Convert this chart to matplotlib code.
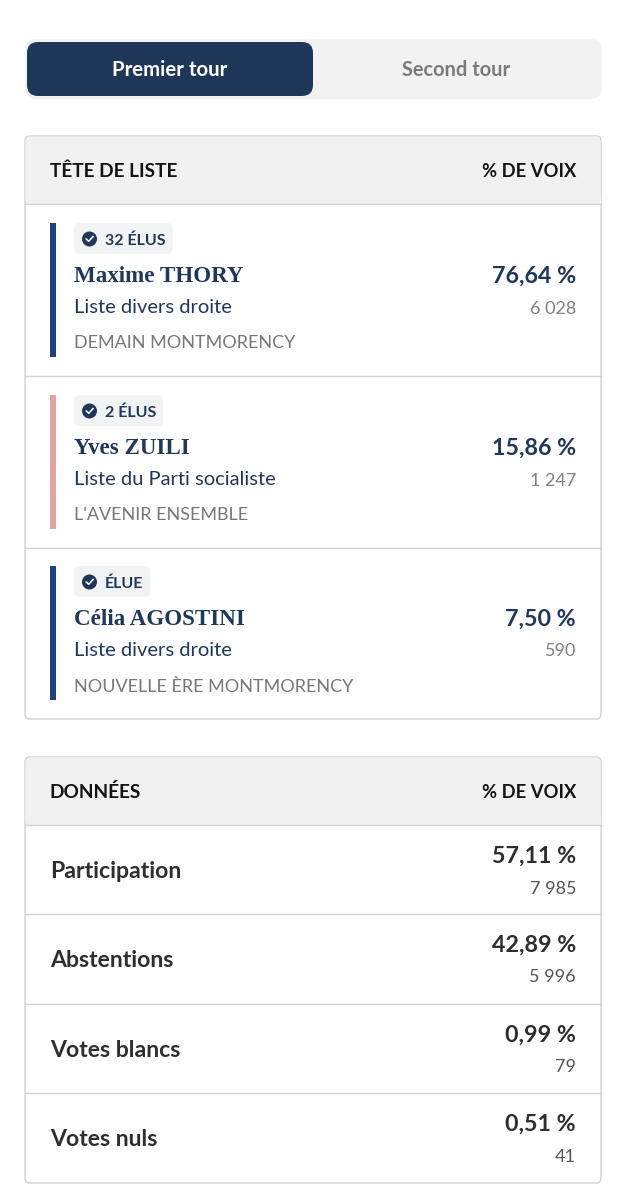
import matplotlib
matplotlib.use("Agg")
import matplotlib.pyplot as plt
from matplotlib.patches import FancyBboxPatch, Rectangle, Circle

tabs = ["Premier tour", "Second tour"]
headers_top = ["TÊTE DE LISTE", "% DE VOIX"]
headers_bottom = ["DONNÉES", "% DE VOIX"]

badges = ["32 ÉLUS", "2 ÉLUS", "ÉLUE"]
candidates = ["Maxime THORY", "Yves ZUILI", "Célia AGOSTINI"]
nuances = ["Liste divers droite", "Liste du Parti socialiste", "Liste divers droite"]
lists = ["DEMAIN MONTMORENCY", "L'AVENIR ENSEMBLE", "NOUVELLE ÈRE MONTMORENCY"]
shares = ["76,64 %", "15,86 %", "7,50 %"]
votes = ["6 028", "1 247", "590"]
bar_colors = ["#1f4180", "#e3a3a0", "#1f4180"]

data_labels = ["Participation", "Abstentions", "Votes blancs", "Votes nuls"]
data_shares = ["57,11 %", "42,89 %", "0,99 %", "0,51 %"]
data_counts = ["7 985", "5 996", "79", "41"]

NAVY = "#1f3759"
SANS = "Lato"
SERIF = "Liberation Serif"
BORDER = "#d2d2d2"
HEAD = "#f1f1f1"

fig = plt.figure(figsize=(6.26, 12), dpi=100, facecolor="white")
ax = fig.add_axes([0, 0, 1, 1])
ax.set_xlim(0, 626)
ax.set_ylim(1200, 0)
ax.axis("off")


def px(size):
    return size * 72 / 100


def rbox(x0, y0, x1, y1, r, fc, ec="none", lw=0, z=1):
    p = FancyBboxPatch((x0 + r, y0 + r), x1 - x0 - 2 * r, y1 - y0 - 2 * r,
                       boxstyle=f"round,pad={r},rounding_size={r}",
                       fc=fc, ec=ec, lw=lw, zorder=z)
    ax.add_patch(p)
    return p


def txt(x, y, s, size, color, weight="normal", ha="left", family=SANS):
    return ax.text(x, y, s, fontsize=px(size), color=color, fontweight=weight, ha=ha,
                   va="center_baseline", family=family, zorder=5)


def table(y0, y1, hdr_bottom, head):
    rbox(25, y0, 601, y1, 5, "white", BORDER, 1.0, z=1)
    rbox(25.5, y0 + .5, 600.5, hdr_bottom, 5, HEAD, z=2)
    ax.add_patch(Rectangle((25.5, hdr_bottom - 10), 575, 10, fc=HEAD, ec="none", zorder=2))
    ax.plot([25, 601], [hdr_bottom, hdr_bottom], color=BORDER, lw=1.0, zorder=3)
    txt(49.5, (y0 + hdr_bottom) / 2, head[0], 19, "#141414", "bold")
    txt(576, (y0 + hdr_bottom) / 2, head[1], 18.4, "#141414", "bold", ha="right")


# tabs
rbox(25, 39, 602, 99, 12, "#f2f2f2")
rbox(27, 42, 313, 96, 11, "#1e3759", z=2)
txt(170, 68.5, tabs[0], 20.4, "white", "bold", ha="center")
txt(456.5, 68.5, tabs[1], 20, "#7b7b7b", "bold", ha="center")

# candidates table
table(136, 719, 204, headers_top)
row_top = [223, 395, 566]
for i, top in enumerate(row_top):
    if i:
        ax.plot([25, 601], [top - 19 + (0 if i == 1 else 1)] * 2, color=BORDER, lw=1.0, zorder=3)
    ax.add_patch(Rectangle((50, top), 5.5, 134, fc=bar_colors[i], ec="none", zorder=3))
    t = txt(105, top + 16, badges[i], 16, NAVY, "bold")
    fig.canvas.draw()
    bb = t.get_window_extent()
    rbox(74, top, bb.x1 + 7, top + 31, 6, "#f2f3f5", z=3)
    ax.add_patch(Circle((89.5, top + 16), 7.5, fc=NAVY, ec="none", zorder=5))
    ax.plot([86.3, 88.7, 93], [top + 16, top + 18.3, top + 13.6], color="white", lw=1.1, zorder=6)
    txt(74, top + 51, candidates[i], 23, NAVY, "bold", family=SERIF)
    txt(74, top + 83, nuances[i], 20.1, NAVY)
    txt(74, top + 119, lists[i], 18, "#777777")
    txt(576, top + 51.5, shares[i], 23.2, NAVY, "bold", ha="right")
    txt(576, top + 84, votes[i], 18, "#808080", ha="right")

# data table
table(757, 1183, 825, headers_bottom)
row_lines = [825, 914, 1004, 1093, 1183]
for i, lab in enumerate(data_labels):
    a, b = row_lines[i], row_lines[i + 1]
    if i:
        ax.plot([25, 601], [a, a], color=BORDER, lw=1.0, zorder=3)
    txt(50, a + 44.5, lab, 23, "#2e2e2e", "bold")
    txt(576, a + 29, data_shares[i], 23.2, "#2e2e2e", "bold", ha="right")
    txt(576, a + 62, data_counts[i], 18, "#555555", ha="right")

fig.savefig("out.png", dpi=100, facecolor="white")
